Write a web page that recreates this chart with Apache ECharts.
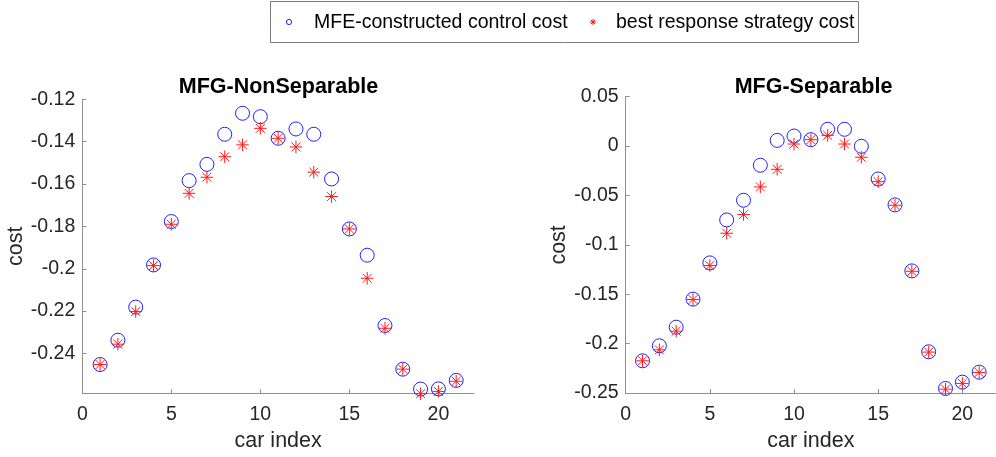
<!DOCTYPE html>
<html>
<head>
<meta charset="utf-8">
<script src="https://cdn.jsdelivr.net/npm/echarts@6/dist/echarts.min.js"></script>
<style>
  html, body { margin: 0; padding: 0; background: #fff; }
  #chart { width: 996px; height: 457px; }
</style>
</head>
<body>
<div id="chart"></div>
<script>
// Car indices shared by both panels
const carIndex = [1, 2, 3, 4, 5, 6, 7, 8, 9, 10, 11, 12, 13, 14, 15, 16, 17, 18, 19, 20, 21];

// MFG-NonSeparable
const nonSepMFE = [-0.2452, -0.2337, -0.2181, -0.1982, -0.1777, -0.1584, -0.1507, -0.1365, -0.1266, -0.1282, -0.1384,
                   -0.1340, -0.1365, -0.1576, -0.1812, -0.1936, -0.2268, -0.2474, -0.2568, -0.2567, -0.2527];
const nonSepBR  = [-0.2452, -0.2356, -0.2202, -0.1985, -0.1790, -0.1644, -0.1568, -0.1471, -0.1415, -0.1337, -0.1384,
                   -0.1425, -0.1544, -0.1659, -0.1812, -0.2045, -0.2281, -0.2474, -0.2590, -0.2579, -0.2531];

// MFG-Separable
const sepMFE = [-0.2173, -0.2021, -0.1833, -0.1549, -0.1182, -0.0747, -0.0548, -0.0194, 0.0058, 0.0102, 0.0065,
                0.0170, 0.0170, -0.0002, -0.0333, -0.0595, -0.1263, -0.2082, -0.2453, -0.2389, -0.2288];
const sepBR  = [-0.2173, -0.2062, -0.1873, -0.1553, -0.1209, -0.0882, -0.0693, -0.0413, -0.0235, 0.0021, 0.0065,
                0.0109, 0.0021, -0.0113, -0.0360, -0.0599, -0.1267, -0.2085, -0.2460, -0.2402, -0.2291];

// Tick labels
const xTicks = [0, 5, 10, 15, 20];
const yTicksNonSep = [-0.24, -0.22, -0.2, -0.18, -0.16, -0.14, -0.12];
const yTicksSep = [-0.25, -0.2, -0.15, -0.1, -0.05, 0, 0.05];

const seriesNames = ['MFE-constructed control cost', 'best response strategy cost'];
const panelTitles = ['MFG-NonSeparable', 'MFG-Separable'];

const FONT = '"Liberation Sans", Arial, Helvetica, sans-serif';
const AXIS_COLOR = '#8f8f8f';
const TEXT_COLOR = '#262626';
const BLUE = '#2020ff';
const RED = '#ff1a1a';
const STAR = 'path://M6 0V12M0 6H12M1.76 1.76L10.24 10.24M1.76 10.24L10.24 1.76';

function pairs(ys) {
  return carIndex.map((x, i) => [x, ys[i]]);
}

function xAxis(gridIndex) {
  return {
    type: 'value', gridIndex, min: 0, max: 22,
    name: 'car index', nameLocation: 'middle', nameGap: 34,
    nameTextStyle: { fontFamily: FONT, fontSize: 21.5, color: TEXT_COLOR },
    axisLine: { show: true, onZero: false, lineStyle: { color: AXIS_COLOR, width: 1 } },
    axisTick: { show: true, inside: true, length: 4, customValues: xTicks, lineStyle: { color: AXIS_COLOR } },
    axisLabel: { customValues: xTicks, margin: 12, fontFamily: FONT, fontSize: 19.5, color: TEXT_COLOR },
    splitLine: { show: false }
  };
}

function yAxis(gridIndex, min, max, ticks) {
  return {
    type: 'value', gridIndex, min, max,
    name: 'cost', nameLocation: 'middle', nameGap: 54, nameRotate: 90,
    nameTextStyle: { fontFamily: FONT, fontSize: 21.5, color: TEXT_COLOR },
    axisLine: { show: true, onZero: false, lineStyle: { color: AXIS_COLOR, width: 1 } },
    axisTick: { show: true, inside: true, length: 4, customValues: ticks, lineStyle: { color: AXIS_COLOR } },
    axisLabel: { customValues: ticks, margin: 7, fontFamily: FONT, fontSize: 19.5, color: TEXT_COLOR },
    splitLine: { show: false }
  };
}

function circleSeries(idx, ys) {
  return {
    name: seriesNames[0], type: 'scatter', xAxisIndex: idx, yAxisIndex: idx,
    symbol: 'circle', symbolSize: 14, clip: false,
    itemStyle: { color: 'rgba(0,0,0,0)', borderColor: BLUE, borderWidth: 1, opacity: 1 },
    emphasis: { disabled: true },
    data: pairs(ys), z: 2
  };
}

function starSeries(idx, ys) {
  return {
    name: seriesNames[1], type: 'scatter', xAxisIndex: idx, yAxisIndex: idx,
    symbol: STAR, symbolSize: 12.5, clip: false,
    itemStyle: { color: 'rgba(0,0,0,0)', borderColor: RED, borderWidth: 1, opacity: 1 },
    emphasis: { disabled: true },
    data: pairs(ys), z: 3
  };
}

// Small asterisk key built from four strokes
function legendStar(cx, cy, r) {
  const d = r * 0.707;
  const segs = [[0, -r, 0, r], [-r, 0, r, 0], [-d, -d, d, d], [-d, d, d, -d]];
  return {
    type: 'group', x: cx, y: cy, z: 11,
    children: segs.map(s => ({
      type: 'line', shape: { x1: s[0], y1: s[1], x2: s[2], y2: s[3] },
      style: { stroke: RED, lineWidth: 1 }, z: 11
    }))
  };
}

// Boxed legend across the top of the figure
const legendY = 22.5;
const legendGraphic = [
  { type: 'rect', shape: { x: 270.5, y: 1.5, width: 588, height: 41 },
    style: { fill: '#fff', stroke: '#7a7a7a', lineWidth: 1 }, z: 10 },
  { type: 'circle', shape: { cx: 289, cy: legendY - 0.5, r: 2.6 },
    style: { fill: 'none', stroke: BLUE, lineWidth: 1 }, z: 11 },
  { type: 'text', x: 314, y: legendY, style: { text: seriesNames[0], font: '19.5px ' + FONT,
    fill: '#000', verticalAlign: 'middle', align: 'left' }, z: 11 },
  legendStar(593, legendY - 0.5, 3),
  { type: 'text', x: 616, y: legendY, style: { text: seriesNames[1], font: '19.5px ' + FONT,
    fill: '#000', verticalAlign: 'middle', align: 'left' }, z: 11 }
];

const chart = echarts.init(document.getElementById('chart'), null, { renderer: 'canvas' });

chart.setOption({
  animation: false,
  backgroundColor: '#fff',
  title: [
    { text: panelTitles[0], left: 278.5, top: 76, textAlign: 'center', padding: 0,
      textStyle: { fontFamily: FONT, fontSize: 21.5, fontWeight: 'bold', color: '#000' } },
    { text: panelTitles[1], left: 813.5, top: 76, textAlign: 'center', padding: 0,
      textStyle: { fontFamily: FONT, fontSize: 21.5, fontWeight: 'bold', color: '#000' } }
  ],
  graphic: legendGraphic,
  grid: [
    { left: 82.3, top: 99.3, width: 391.7, height: 294, containLabel: false },
    { left: 625.7, top: 96.7, width: 376.6, height: 296.6, containLabel: false }
  ],
  xAxis: [xAxis(0), xAxis(1)],
  yAxis: [
    yAxis(0, -0.2587, -0.12, yTicksNonSep),
    yAxis(1, -0.25, 0.05, yTicksSep)
  ],
  series: [
    circleSeries(0, nonSepMFE),
    starSeries(0, nonSepBR),
    circleSeries(1, sepMFE),
    starSeries(1, sepBR)
  ]
});
</script>
</body>
</html>
